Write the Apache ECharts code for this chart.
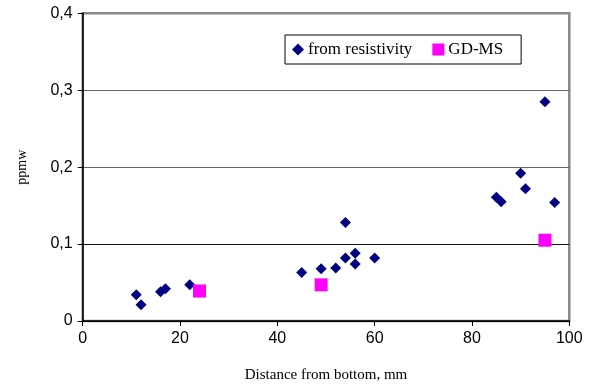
<!DOCTYPE html>
<html><head><meta charset="utf-8">
<script src="https://cdn.jsdelivr.net/npm/echarts@6/dist/echarts.min.js"></script>
<style>html,body{margin:0;padding:0;background:#fff}#c{width:595px;height:388px}</style>
</head><body><div id="c"></div>
<script>
const resX = [11, 12, 16, 17, 22, 45, 49, 52, 54, 54, 56, 56, 60, 85, 86, 90, 91, 95, 97];
const resY = [0.034, 0.021, 0.038, 0.042, 0.047, 0.063, 0.068, 0.069, 0.082, 0.128, 0.088, 0.074, 0.082, 0.161, 0.155, 0.192, 0.172, 0.285, 0.154];
const gdX = [24, 49, 95];
const gdY = [0.039, 0.047, 0.105];
const xTicks = [0, 20, 40, 60, 80, 100];
const yTicks = ['0', '0,1', '0,2', '0,3', '0,4'];

const chart = echarts.init(document.getElementById('c'));
chart.setOption({
  animation: false,
  backgroundColor: '#fff',
  grid: {left: 82.7, right: 25.7, top: 13.3, bottom: 65.3, show: true, borderColor: '#888', borderWidth: 2.5, backgroundColor: 'transparent'},
  legend: {
    left: 285, top: 35,
    borderColor: '#000', borderWidth: 1, padding: [6, 18, 6, 7],
    itemGap: 20, itemWidth: 12, itemHeight: 12,
    textStyle: {fontFamily: 'Liberation Serif', fontSize: 17, color: '#000', padding: [0, 0, 0, -1]},
    data: [{name: 'from resistivity', icon: 'diamond'}, {name: 'GD-MS', icon: 'rect'}]
  },
  xAxis: {
    type: 'value', min: 0, max: 100, interval: 20,
    name: 'Distance from bottom, mm', nameLocation: 'middle', nameGap: 47,
    nameTextStyle: {fontFamily: 'Liberation Serif', fontSize: 15, color: '#000'},
    axisLine: {show: true, onZero: false, lineStyle: {color: '#000', width: 1.5}},
    axisTick: {show: true, length: 5, lineStyle: {color: '#000'}},
    axisLabel: {fontFamily: 'Liberation Sans', fontSize: 16, color: '#000', margin: 10,
      formatter: v => xTicks.includes(v) ? String(v) : ''},
    splitLine: {show: false}
  },
  yAxis: {
    type: 'value', min: 0, max: 0.4, interval: 0.1,
    name: 'ppmw', nameLocation: 'middle', nameGap: 53, nameRotate: 90,
    nameTextStyle: {fontFamily: 'Liberation Serif', fontSize: 14, color: '#000'},
    axisLine: {show: true, lineStyle: {color: '#000', width: 1.5}},
    axisTick: {show: true, length: 5, lineStyle: {color: '#000'}},
    axisLabel: {fontFamily: 'Liberation Sans', fontSize: 16, color: '#000', margin: 10,
      formatter: v => yTicks[Math.round(v * 10)]},
    splitLine: {show: true, lineStyle: {color: ['#000', '#111', '#666', '#666', '#888'], width: 1}}
  },
  series: [
    {name: 'from resistivity', type: 'scatter', symbol: 'diamond', symbolSize: [11, 11],
     itemStyle: {color: '#000080', opacity: 1}, data: resX.map((x, i) => [x, resY[i]])},
    {name: 'GD-MS', type: 'scatter', symbol: 'rect', symbolSize: 13,
     itemStyle: {color: '#FF00FF', opacity: 1}, data: gdX.map((x, i) => [x, gdY[i]])}
  ]
});
</script></body></html>
